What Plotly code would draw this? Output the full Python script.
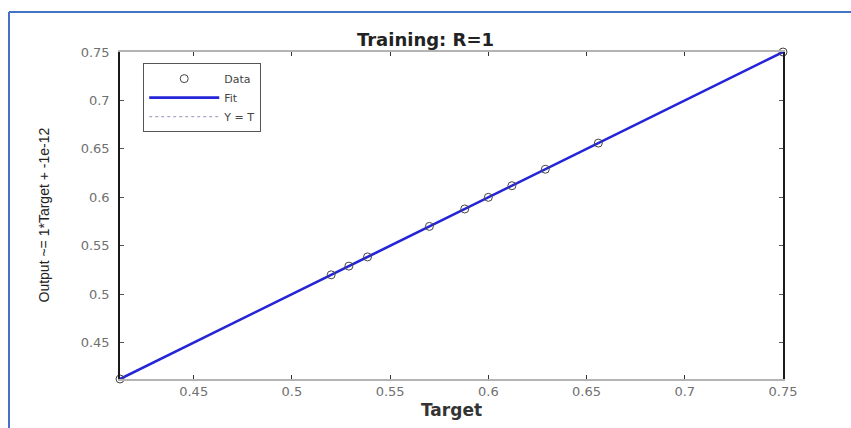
import plotly.graph_objects as go

# Regression of network output against target values (training set)
targets = [0.4125, 0.520, 0.529, 0.5385, 0.570, 0.588, 0.600, 0.612, 0.629, 0.656, 0.750]
outputs = [0.4125, 0.520, 0.529, 0.5385, 0.570, 0.588, 0.600, 0.612, 0.629, 0.656, 0.750]
fit_slope = 1.0
fit_offset = -1e-12
tick_vals = [0.45, 0.5, 0.55, 0.6, 0.65, 0.7, 0.75]
tick_text = ["0.45", "0.5", "0.55", "0.6", "0.65", "0.7", "0.75"]
axis_min, axis_max = min(targets), max(targets)

fit_x = [axis_min, axis_max]
fit_y = [fit_slope * v + fit_offset for v in fit_x]

fig = go.Figure()

# Y = T reference (dotted), drawn underneath the fit
fig.add_trace(go.Scatter(
    x=fit_x, y=fit_x, mode="lines", name="Y = T",
    line=dict(color="#a8a8c8", width=1.2, dash="dot"),
))
# Fitted regression line
fig.add_trace(go.Scatter(
    x=fit_x, y=fit_y, mode="lines", name="Fit",
    line=dict(color="#2424d8", width=2.6),
))
# Data points as open circles
fig.add_trace(go.Scatter(
    x=targets, y=outputs, mode="markers", name="Data",
    marker=dict(symbol="circle-open", size=8, color="#444444", line=dict(width=1)),
    cliponaxis=False,
))

tick_font = dict(family="DejaVu Sans, Arial, sans-serif", size=13, color="#707070")

fig.update_layout(
    width=851, height=428,
    margin=dict(l=120, r=68, t=52, b=49),
    paper_bgcolor="white", plot_bgcolor="white",
    showlegend=True,
    legend=dict(
        x=0.035, y=0.966, xanchor="left", yanchor="top",
        traceorder="reversed",
        bgcolor="white", bordercolor="#555555", borderwidth=1,
        font=dict(family="DejaVu Sans, Arial, sans-serif", size=11, color="#444444"),
        tracegroupgap=0, itemwidth=70,
    ),
    title=dict(
        text="<b>Training: R=1</b>", x=0.5, xanchor="center",
        y=1 - 40 / 428, yanchor="middle",
        font=dict(family="DejaVu Sans, Arial, sans-serif", size=18, color="#222222"),
    ),
    xaxis=dict(
        range=[axis_min, axis_max], tickvals=tick_vals, ticktext=tick_text,
        showgrid=False, zeroline=False,
        showline=True, linecolor="#b4b4b4", linewidth=1.5, mirror="ticks",
        ticks="inside", ticklen=4, tickcolor="#333333",
        tickfont=tick_font,
        title=dict(text="<b>Target</b>", standoff=6,
                   font=dict(family="DejaVu Sans, Arial, sans-serif", size=17, color="#333333")),
    ),
    yaxis=dict(
        range=[axis_min, axis_max], tickvals=tick_vals, ticktext=tick_text,
        showgrid=False, zeroline=False,
        showline=True, linecolor="#1a1a1a", linewidth=1.5, mirror="ticks",
        ticks="inside", ticklen=4, tickcolor="#555555",
        tickfont=tick_font, ticklabelstandoff=6,
    ),
    annotations=[dict(
        text="Output ~= 1*Target + -1e-12",
        xref="paper", yref="paper", x=(43 - 120) / 663, y=0.5,
        xanchor="center", yanchor="middle", textangle=-90, showarrow=False,
        font=dict(family="Liberation Sans Narrow, Arial Narrow, sans-serif", size=14, color="#222222"),
    )],
    shapes=[
        # outer blue frame (left and top edges visible)
        dict(type="line", xref="paper", yref="paper",
             x0=(9 - 120) / 663, x1=(9 - 120) / 663, y0=1 + 40 / 327, y1=-0.3,
             line=dict(color="#4472c4", width=2)),
        dict(type="line", xref="paper", yref="paper",
             x0=(9 - 120) / 663, x1=1.3, y0=1 + 40 / 327, y1=1 + 40 / 327,
             line=dict(color="#4472c4", width=2)),
    ],
)

fig.write_html("out.html")
